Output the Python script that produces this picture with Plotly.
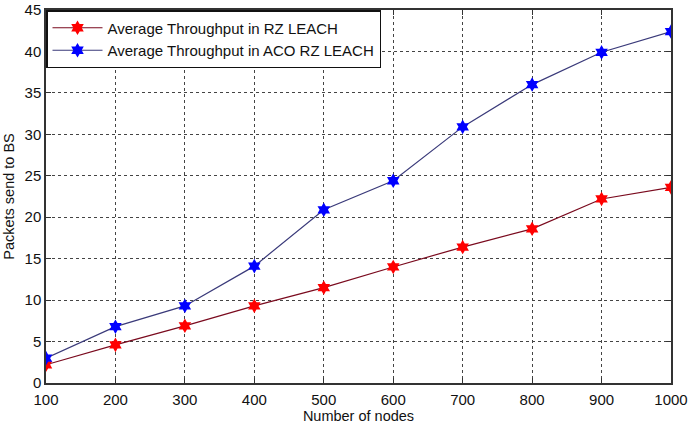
import plotly.graph_objects as go

nodes = [100, 200, 300, 400, 500, 600, 700, 800, 900, 1000]
rz_leach = [2.2, 4.6, 6.9, 9.3, 11.5, 14.0, 16.4, 18.6, 22.2, 23.6]
aco_rz_leach = [3.0, 6.8, 9.3, 14.1, 20.9, 24.4, 30.9, 36.0, 39.9, 42.4]
series_names = ["Average Throughput in RZ LEACH", "Average Throughput in ACO RZ LEACH"]
x_ticks = [100, 200, 300, 400, 500, 600, 700, 800, 900, 1000]
y_ticks = [0, 5, 10, 15, 20, 25, 30, 35, 40, 45]

FONT = "Liberation Sans, Arial"

fig = go.Figure()
fig.add_trace(go.Scatter(
    x=nodes, y=rz_leach, mode="lines+markers", name=series_names[0],
    line=dict(color="#7a0a1e", width=1.2),
    marker=dict(symbol="hexagram", size=11, color="#ff0000", line=dict(width=0)),
))
fig.add_trace(go.Scatter(
    x=nodes, y=aco_rz_leach, mode="lines+markers", name=series_names[1],
    line=dict(color="#3a3a7a", width=1.2),
    marker=dict(symbol="hexagram", size=11, color="#0000ff", line=dict(width=0)),
))

axis_common = dict(
    showline=True, linecolor="#333333", linewidth=1.5, mirror="ticks",
    ticks="inside", ticklen=5, tickcolor="#333333",
    showgrid=True, gridcolor="#444444", griddash="dot", gridwidth=1,
    zeroline=False, automargin=False,
    tickfont=dict(family=FONT, size=15, color="#111111"),
    ticklabeloverflow="allow",
)

fig.update_xaxes(
    range=[100, 1000], tickvals=x_ticks, ticklabelstandoff=2,
    title=dict(text="Number of nodes", font=dict(family=FONT, size=14.5, color="#111111"), standoff=4),
    **axis_common,
)
fig.update_yaxes(
    range=[0, 45], tickvals=y_ticks,
    title=dict(text="Packets send to BS", font=dict(family=FONT, size=14.5, color="#111111"), standoff=6),
    **axis_common,
)

fig.update_layout(
    width=689, height=424,
    margin=dict(l=46, r=18, t=10, b=41),
    plot_bgcolor="white", paper_bgcolor="white",
    showlegend=True,
    legend=dict(
        x=0, y=1, xanchor="left", yanchor="top",
        bordercolor="#111111", borderwidth=1.5, bgcolor="white",
        font=dict(family=FONT, size=15, color="#111111"),
        itemwidth=50, tracegroupgap=0,
    ),
)

fig.write_html("out.html")
